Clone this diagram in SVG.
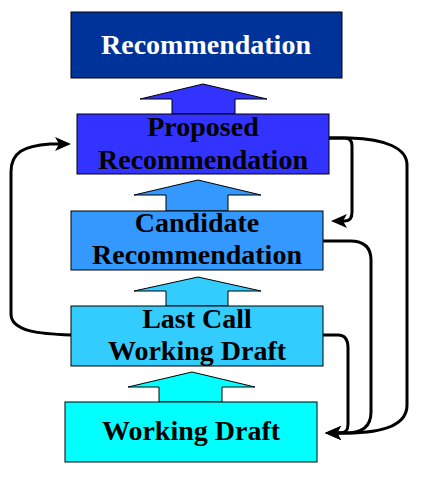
<svg xmlns="http://www.w3.org/2000/svg" width="432" height="485" viewBox="0 0 432 485">
<style>
.box{stroke:#000;stroke-width:1}
.blk{stroke:#000;stroke-width:1;stroke-linejoin:miter}
.lbl{font-family:"Liberation Serif","Times New Roman",serif;font-weight:bold;font-size:28px;text-anchor:middle;fill:#000}
.wh{fill:#fff}
.ln{fill:none;stroke:#000;stroke-width:3;marker-end:url(#ah)}
</style>
<defs>
<marker id="ah" markerUnits="userSpaceOnUse" orient="auto" overflow="visible" refX="0" refY="0" markerWidth="1" markerHeight="1">
<path d="M11,0 L-5,-7 L-1,0 L-5,7 Z" fill="#000"/>
</marker>
</defs>
<rect width="432" height="485" fill="#fff"/>
<g id="connectors">
<g id="progression">
<polygon class="blk" fill="#3333FF" points="203,84 267,99 235,99 235,114 172,114 172,99 140,99"/>
<polygon class="blk" fill="#3399FF" points="198,180 261,195 228,195 228,211 166,211 166,195 134,195"/>
<polygon class="blk" fill="#33CCFF" points="198,277 261,291 228,291 228,306 166,306 166,291 134,291"/>
<polygon class="blk" fill="#00FFFF" points="192,372 255,387 222,387 222,402 159,402 159,387 128,387"/>
</g>
<path class="ln" d="M71,335 C42,334 11,332 11,314 L11,172 C11,152 24,146 50,144 L60,144"/>
<path class="ln" d="M329,138 L345,138 C350,138 352,141 352,146 L352,212 C352,218 350,221 345,221 L342,221"/>
<path class="ln" d="M329,138 L350,138 C385,139 407,148 407,165 L407,405 C407,425 385,433 346,433 L336,433"/>
<path class="ln" d="M323,241 L350,241 C365,241 371,248 371,260 L371,412 C371,426 362,433 346,433 L336,433"/>
<path class="ln" d="M323,335 L338,335 C345,335 348,340 348,348 L348,424 C348,430 346,433 340,433 L336,433"/>
</g>
<g id="rec">
<rect class="box" x="71" y="12" width="271" height="66" fill="#003399"/>
<text class="lbl wh" x="206" y="54">Recommendation</text>
</g>
<g id="pr">
<rect class="box" x="77" y="114" width="252" height="60" fill="#3333FF"/>
<text class="lbl" x="203" y="136">Proposed</text>
<text class="lbl" x="203" y="169">Recommendation</text>
</g>
<g id="cr">
<rect class="box" x="71" y="211" width="252" height="59" fill="#3399FF"/>
<text class="lbl" x="197" y="232">Candidate</text>
<text class="lbl" x="197" y="264">Recommendation</text>
</g>
<g id="lc">
<rect class="box" x="71" y="306" width="252" height="60" fill="#33CCFF"/>
<text class="lbl" x="197" y="328">Last Call</text>
<text class="lbl" x="197" y="360">Working Draft</text>
</g>
<g id="wd">
<rect class="box" x="65" y="402" width="252" height="60" fill="#00FFFF"/>
<text class="lbl" x="191" y="440">Working Draft</text>
</g>
</svg>
